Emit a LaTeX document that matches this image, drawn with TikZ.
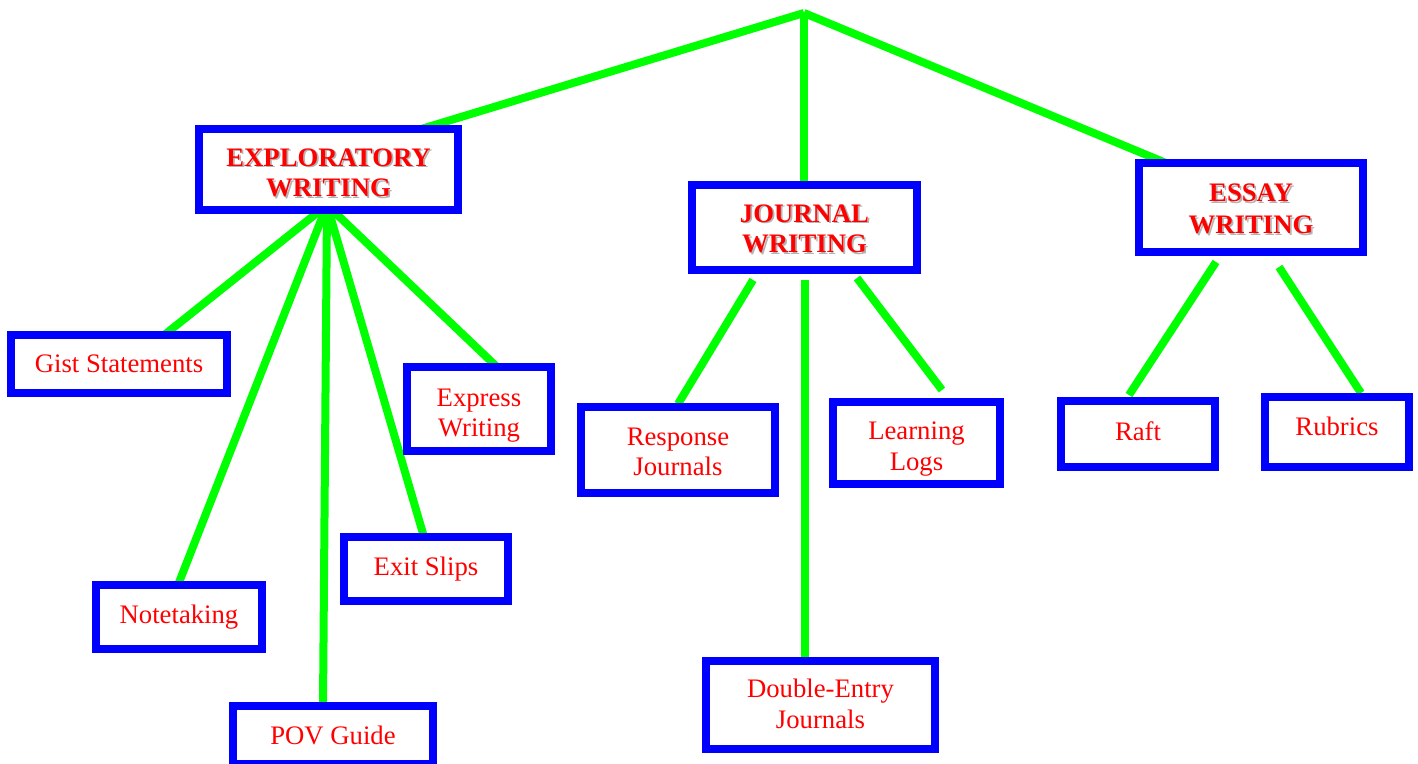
\documentclass[tikz,border=0pt]{standalone}
\usepackage{fontspec}
\setmainfont{Liberation Serif}
\definecolor{linkgreen}{RGB}{0,255,0}
\definecolor{boxblue}{RGB}{0,0,255}
\definecolor{labelred}{RGB}{255,0,0}
\definecolor{shadowgray}{RGB}{180,180,180}
% bold heading line with a soft grey drop shadow
\newcommand\shadowed[1]{\leavevmode\rlap{\kern1pt\raisebox{-1pt}{\textcolor{shadowgray}{#1}}}#1}
% label block moved vertically inside its frame without changing its size
\newcommand\shiftlabel[2]{\raisebox{#1}[\height][\depth]{\begin{tabular}{@{}c@{}}#2\end{tabular}}}

\begin{document}
\begin{tikzpicture}[x=0.02cm,y=-0.02cm,
  link/.style={draw=linkgreen,line width=0.16cm,line cap=butt},
  box/.style={draw=boxblue,line width=0.15cm,fill=white,rectangle,inner sep=0pt,
    align=center,text=labelred,font=\fontsize{15.2pt}{17.3pt}\selectfont},
  head/.style={box,font=\fontsize{15.2pt}{17.3pt}\selectfont\bfseries}]
\useasboundingbox (0,0) rectangle (1418,764);

% connector end points
\coordinate (apex) at (804,13);
\coordinate (aL) at (418,130);
\coordinate (aM) at (804,185);
\coordinate (aR) at (1166,163);
\coordinate (hub) at (327,205);
\coordinate (eGist) at (163,336);
\coordinate (eNote) at (178,585);
\coordinate (ePov) at (323,705);
\coordinate (eExit) at (424,537);
\coordinate (eExpr) at (496,366);
\coordinate (j1a) at (753,280);
\coordinate (j1b) at (678,404);
\coordinate (j2a) at (805,280);
\coordinate (j2b) at (805,657);
\coordinate (j3a) at (857,278);
\coordinate (j3b) at (942,390);
\coordinate (s1a) at (1216,262);
\coordinate (s1b) at (1129,395);
\coordinate (s2a) at (1279,267);
\coordinate (s2b) at (1361,393);

% green connectors
\draw[link] (apex) -- (aL);
\draw[link] (apex) -- (aM);
\draw[link] (apex) -- (aR);
\draw[link] (hub) -- (eGist);
\draw[link] (hub) -- (eNote);
\draw[link] (hub) -- (ePov);
\draw[link] (hub) -- (eExit);
\draw[link] (hub) -- (eExpr);
\draw[link] (j1a) -- (j1b);
\draw[link] (j2a) -- (j2b);
\draw[link] (j3a) -- (j3b);
\draw[link] (s1a) -- (s1b);
\draw[link] (s2a) -- (s2b);

% category boxes
\node[head,minimum width=5.18cm,minimum height=1.62cm] (expl) at (328.5,169.5)
  {\shiftlabel{-3.2pt}{\shadowed{EXPLORATORY}\\\shadowed{WRITING}}};
\node[head,minimum width=4.50cm,minimum height=1.70cm] (jour) at (804.5,227.5)
  {\shiftlabel{-2.1pt}{\shadowed{JOURNAL}\\\shadowed{WRITING}}};
\node[head,minimum width=4.48cm,minimum height=1.78cm] (essay) at (1251,207.5)
  {\shiftlabel{-2.4pt}{\shadowed{ESSAY}\\[1pt]\shadowed{WRITING}}};

% strategy boxes
\node[box,minimum width=4.32cm,minimum height=1.16cm] (gist) at (119,364) {Gist Statements};
\node[box,minimum width=2.88cm,minimum height=1.68cm] (expr) at (479,409)
  {\shiftlabel{-3.6pt}{Express\\Writing}};
\node[box,minimum width=3.32cm,minimum height=1.28cm] (note) at (179,617) {Notetaking};
\node[box,minimum width=3.28cm,minimum height=1.28cm] (exit) at (426,569) {Exit Slips};
\node[box,minimum width=4.00cm,minimum height=1.16cm] (pov) at (333,735) {POV Guide};
\node[box,minimum width=3.88cm,minimum height=1.72cm] (resp) at (678,450)
  {\shiftlabel{-2.4pt}{Response\\Journals}};
\node[box,minimum width=3.34cm,minimum height=1.64cm] (learn) at (916.5,443)
  {\shiftlabel{-3.4pt}{Learning\\Logs}};
\node[box,minimum width=4.58cm,minimum height=1.76cm] (dbl) at (820.5,705)
  {\shiftlabel{-1.2pt}{Double-Entry\\Journals}};
\node[box,minimum width=3.08cm,minimum height=1.32cm] (raft) at (1138,434)
  {\shiftlabel{0pt}{Raft}};
\node[box,minimum width=2.88cm,minimum height=1.40cm] (rub) at (1337,432)
  {\shiftlabel{1.2pt}{Rubrics}};
\end{tikzpicture}
\end{document}
